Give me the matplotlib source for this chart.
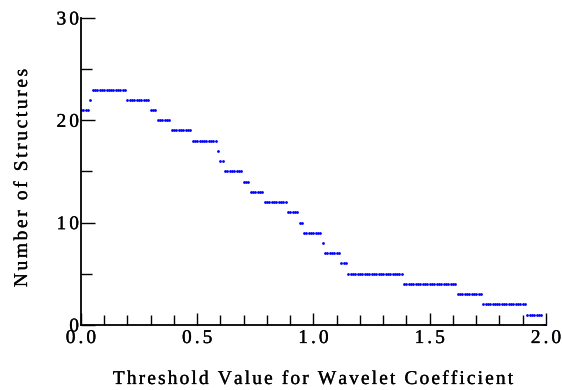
import matplotlib.pyplot as plt
import numpy as np
import matplotlib.patheffects as pe
from matplotlib.ticker import MultipleLocator, NullFormatter
from matplotlib.font_manager import FontProperties, findfont
from matplotlib.ft2font import FT2Font

# Threshold values sampled every 0.01 from 0 to 2
thresholds = np.round(np.arange(0, 201) * 0.01, 2)

# number of structures as runs: level held over `run_lengths` samples
levels = [21, 22, 23, 22, 21, 20, 19, 18, 17, 16, 15, 14, 13, 12, 11, 10, 9, 8, 7, 6, 5, 4, 3, 2, 1, 0]
run_lengths = [4, 1, 15, 10, 3, 6, 9, 11, 1, 2, 8, 3, 6, 10, 5, 2, 8, 1, 7, 3, 24, 23, 11, 19, 7, 2]
structures = np.repeat(levels, run_lengths)

x_ticks = [0.0, 0.5, 1.0, 1.5, 2.0]
y_ticks = [0, 10, 20, 30]
x_title = 'Threshold Value for Wavelet Coefficient'
y_title = 'Number of Structures'

FAMILY = 'Liberation Serif'
SIZE = 14
DPI = 100
W, H = 562, 390

plt.rcParams['font.family'] = [FAMILY, 'DejaVu Serif']

fig = plt.figure(figsize=(W / DPI, H / DPI), dpi=DPI)
ax = fig.add_axes([0.144, 0.167, 0.8275, 0.787])

ax.plot(thresholds, structures, linestyle='none', marker='o', markersize=2.0,
        color=(0, 0, 1), markeredgewidth=0)

ax.set_xlim(0, 2.0)
ax.set_ylim(0, 30)
ax.xaxis.set_major_locator(MultipleLocator(0.5))
ax.xaxis.set_minor_locator(MultipleLocator(0.1))
ax.yaxis.set_major_locator(MultipleLocator(10))
ax.yaxis.set_minor_locator(MultipleLocator(5))
ax.xaxis.set_major_formatter(NullFormatter())
ax.yaxis.set_major_formatter(NullFormatter())

for side in ['top', 'right']:
    ax.spines[side].set_visible(False)
for side in ['left', 'bottom']:
    ax.spines[side].set_linewidth(1.3)

ax.tick_params(which='both', direction='in', width=1.0, colors='black')
ax.tick_params(axis='x', which='major', length=9)
ax.tick_params(axis='x', which='minor', length=7)
ax.tick_params(axis='y', which='major', length=10)
ax.tick_params(axis='y', which='minor', length=8)

# letter-spaced text, drawn glyph by glyph
font = FT2Font(findfont(FontProperties(family=FAMILY)))
font.set_size(SIZE, DPI)
heavier = [pe.Stroke(linewidth=0.2, foreground='black'), pe.Normal()]


def advance(c):
    return font.load_char(ord(c)).linearHoriAdvance / 65536


def spaced_text(x, y, s, track, ha='center', rotation=0):
    # x, y in pixels from lower left; y is the baseline (or baseline x when rotated)
    widths = [advance(c) for c in s]
    total = sum(widths) + track * (len(s) - 1)
    if ha == 'center':
        start = -total / 2
    elif ha == 'right':
        start = -total
    else:
        start = 0
    pos = start
    for c, w in zip(s, widths):
        if c != ' ':
            if rotation == 90:
                px, py = x, y + pos
            else:
                px, py = x + pos, y
            fig.text(px / W, py / H, c, fontsize=SIZE, ha='left', va='baseline',
                     rotation=rotation, rotation_mode='anchor', color='black',
                     path_effects=heavier)
        pos += w + track


digit_h = 0.676 * SIZE * DPI / 72

# tick labels
for v in x_ticks:
    px = ax.transData.transform((v, 0))[0]
    spaced_text(px, H - 343, '%.1f' % v, 3.0)
for v in y_ticks:
    py = ax.transData.transform((0, v))[1]
    spaced_text(79, py - digit_h / 2, '%d' % v, 3.0, ha='right')

# axis titles
spaced_text(313, H - 384, x_title, 2.1)
spaced_text(27, H - 178, y_title, 2.6, rotation=90)

fig.savefig('out.png', dpi=DPI)
